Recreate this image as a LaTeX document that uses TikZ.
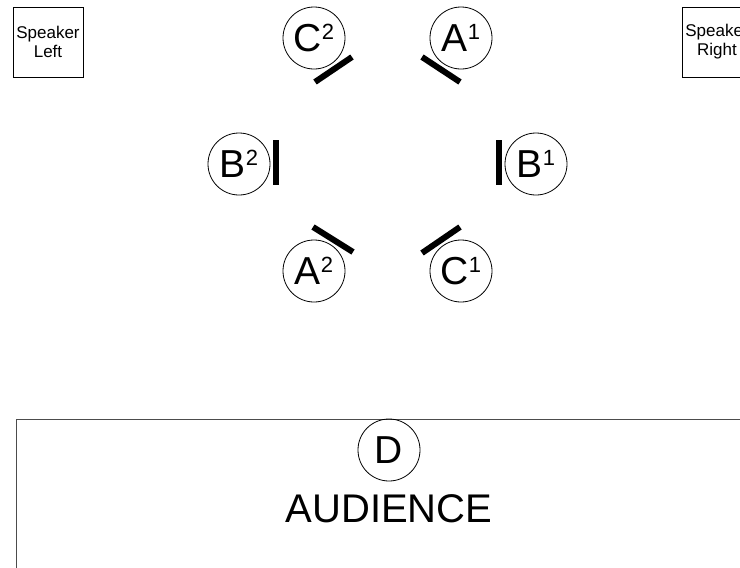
\documentclass[tikz,border=0pt]{standalone}
\usepackage{fontspec}
\setmainfont{Liberation Sans}
\usetikzlibrary{positioning}

\newcommand{\seatname}[2]{#1\raisebox{12pt}{\fontsize{22}{22}\selectfont #2}}

\tikzset{
  seat/.style={circle, draw, line width=0.8pt, minimum size=62pt, inner sep=0pt,
    font=\fontsize{39}{39}\selectfont},
  speaker/.style={rectangle, draw, line width=0.9pt, minimum size=70pt, inner sep=0pt,
    align=center, font=\fontsize{17}{19}\selectfont},
  stand/.style={line width=6pt}
}

\begin{document}
\begin{tikzpicture}[x=1pt, y=-1pt]
\useasboundingbox (0,0) rectangle (740,568);

% speakers
\node[speaker] (spkl) at (48,42) {Speaker\\Left};
\node[speaker] (spkr) at (717,42) {Speaker\\Right};

% seats
\node[seat] (c2) at (314,38) {\seatname{C}{2}};
\node[seat] (a1) at (461,38) {\seatname{A}{1}};
\node[seat] (b2) at (239,164) {\seatname{B}{2}};
\node[seat] (b1) at (536,164) {\seatname{B}{1}};
\node[seat] (a2) at (314,271) {\seatname{A}{2}};
\node[seat] (c1) at (461,271) {\seatname{C}{1}};

% stands
\draw[stand] (315,82) -- (352,57);
\draw[stand] (422,57) -- (460,82);
\draw[stand] (276,140) -- (276,185);
\draw[stand] (499,140) -- (499,185);
\draw[stand] (313,227) -- (353,252);
\draw[stand] (422,253) -- (460,227);

% audience
\draw[line width=1pt, black!70] (16,419) rectangle (770,600);
\node[seat] (d) at (389,450) {D};
\node[font=\fontsize{40}{40}\selectfont, below=10pt of d] (aud) {AUDIENCE};
\end{tikzpicture}
\end{document}
